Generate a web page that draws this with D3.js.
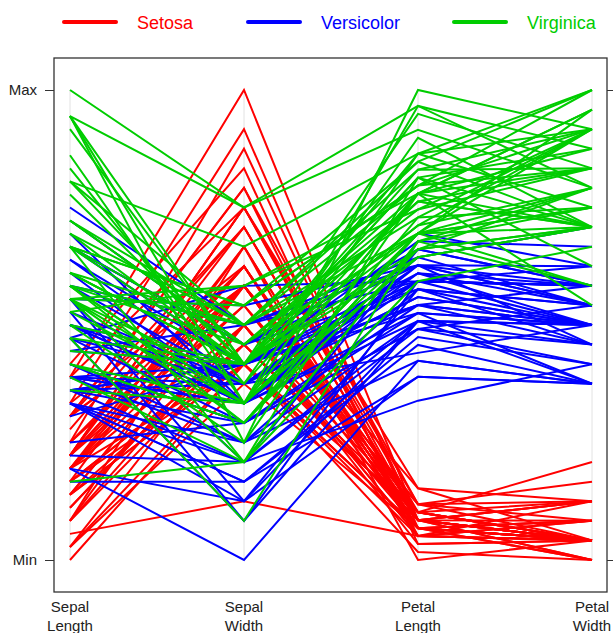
<!DOCTYPE html>
<html>
<head>
<meta charset="utf-8">
<script src="https://cdn.jsdelivr.net/npm/d3@7"></script>
<style>
  body { margin: 0; background: #fff; }
  text { font-family: "Liberation Sans", Arial, sans-serif; }
</style>
</head>
<body>
<svg id="chart" width="613" height="633"></svg>
<script>
// iris measurements, rows 1-50 setosa, 51-100 versicolor, 101-150 virginica
const sepalLength = [
  5.1,4.9,4.7,4.6,5.0,5.4,4.6,5.0,4.4,4.9,5.4,4.8,4.8,4.3,5.8,5.7,5.4,5.1,5.7,5.1,5.4,5.1,4.6,5.1,4.8,
  5.0,5.0,5.2,5.2,4.7,4.8,5.4,5.2,5.5,4.9,5.0,5.5,4.9,4.4,5.1,5.0,4.5,4.4,5.0,5.1,4.8,5.1,4.6,5.3,5.0,
  7.0,6.4,6.9,5.5,6.5,5.7,6.3,4.9,6.6,5.2,5.0,5.9,6.0,6.1,5.6,6.7,5.6,5.8,6.2,5.6,5.9,6.1,6.3,6.1,6.4,
  6.6,6.8,6.7,6.0,5.7,5.5,5.5,5.8,6.0,5.4,6.0,6.7,6.3,5.6,5.5,5.5,6.1,5.8,5.0,5.6,5.7,5.7,6.2,5.1,5.7,
  6.3,5.8,7.1,6.3,6.5,7.6,4.9,7.3,6.7,7.2,6.5,6.4,6.8,5.7,5.8,6.4,6.5,7.7,7.7,6.0,6.9,5.6,7.7,6.3,6.7,
  7.2,6.2,6.1,6.4,7.2,7.4,7.9,6.4,6.3,6.1,7.7,6.3,6.4,6.0,6.9,6.7,6.9,5.8,6.8,6.7,6.7,6.3,6.5,6.2,5.9
];
const sepalWidth = [
  3.5,3.0,3.2,3.1,3.6,3.9,3.4,3.4,2.9,3.1,3.7,3.4,3.0,3.0,4.0,4.4,3.9,3.5,3.8,3.8,3.4,3.7,3.6,3.3,3.4,
  3.0,3.4,3.5,3.4,3.2,3.1,3.4,4.1,4.2,3.1,3.2,3.5,3.6,3.0,3.4,3.5,2.3,3.2,3.5,3.8,3.0,3.8,3.2,3.7,3.3,
  3.2,3.2,3.1,2.3,2.8,2.8,3.3,2.4,2.9,2.7,2.0,3.0,2.2,2.9,2.9,3.1,3.0,2.7,2.2,2.5,3.2,2.8,2.5,2.8,2.9,
  3.0,2.8,3.0,2.9,2.6,2.4,2.4,2.7,2.7,3.0,3.4,3.1,2.3,3.0,2.5,2.6,3.0,2.6,2.3,2.7,3.0,2.9,2.9,2.5,2.8,
  3.3,2.7,3.0,2.9,3.0,3.0,2.5,2.9,2.5,3.6,3.2,2.7,3.0,2.5,2.8,3.2,3.0,3.8,2.6,2.2,3.2,2.8,2.8,2.7,3.3,
  3.2,2.8,3.0,2.8,3.0,2.8,3.8,2.8,2.8,2.6,3.0,3.4,3.1,3.0,3.1,3.1,3.1,2.7,3.2,3.3,3.0,2.5,3.0,3.4,3.0
];
const petalLength = [
  1.4,1.4,1.3,1.5,1.4,1.7,1.4,1.5,1.4,1.5,1.5,1.6,1.4,1.1,1.2,1.5,1.3,1.4,1.7,1.5,1.7,1.5,1.0,1.7,1.9,
  1.6,1.6,1.5,1.4,1.6,1.6,1.5,1.5,1.4,1.5,1.2,1.3,1.4,1.3,1.5,1.3,1.3,1.3,1.6,1.9,1.4,1.6,1.4,1.5,1.4,
  4.7,4.5,4.9,4.0,4.6,4.5,4.7,3.3,4.6,3.9,3.5,4.2,4.0,4.7,3.6,4.4,4.5,4.1,4.5,3.9,4.8,4.0,4.9,4.7,4.3,
  4.4,4.8,5.0,4.5,3.5,3.8,3.7,3.9,5.1,4.5,4.5,4.7,4.4,4.1,4.0,4.4,4.6,4.0,3.3,4.2,4.2,4.2,4.3,3.0,4.1,
  6.0,5.1,5.9,5.6,5.8,6.6,4.5,6.3,5.8,6.1,5.1,5.3,5.5,5.0,5.1,5.3,5.5,6.7,6.9,5.0,5.7,4.9,6.7,4.9,5.7,
  6.0,4.8,4.9,5.6,5.8,6.1,6.4,5.6,5.1,5.6,6.1,5.6,5.5,4.8,5.4,5.6,5.1,5.1,5.9,5.7,5.2,5.0,5.2,5.4,5.1
];
const petalWidth = [
  0.2,0.2,0.2,0.2,0.2,0.4,0.3,0.2,0.2,0.1,0.2,0.2,0.1,0.1,0.2,0.4,0.4,0.3,0.3,0.3,0.2,0.4,0.2,0.5,0.2,
  0.2,0.4,0.2,0.2,0.2,0.2,0.4,0.1,0.2,0.2,0.2,0.2,0.1,0.2,0.2,0.3,0.3,0.2,0.6,0.4,0.3,0.2,0.2,0.2,0.2,
  1.4,1.5,1.5,1.3,1.5,1.3,1.6,1.0,1.3,1.4,1.0,1.5,1.0,1.4,1.3,1.4,1.5,1.0,1.5,1.1,1.8,1.3,1.5,1.2,1.3,
  1.4,1.4,1.7,1.5,1.0,1.1,1.0,1.2,1.6,1.5,1.6,1.5,1.3,1.3,1.3,1.2,1.4,1.2,1.0,1.3,1.2,1.3,1.3,1.1,1.3,
  2.5,1.9,2.1,1.8,2.2,2.1,1.7,1.8,1.8,2.5,2.0,1.9,2.1,2.0,2.4,2.3,1.8,2.2,2.3,1.5,2.3,2.0,2.0,1.8,2.1,
  1.8,1.8,1.8,2.1,1.6,1.9,2.0,2.2,1.5,1.4,2.3,2.4,1.8,1.8,2.1,2.4,2.3,1.9,2.3,2.5,2.3,1.9,2.0,2.3,1.8
];
const speciesNames = ["Setosa", "Versicolor", "Virginica"];
const speciesColors = ["#ff0000", "#0000ff", "#00cd00"];
const dimensionLabels = [["Sepal", "Length"], ["Sepal", "Width"], ["Petal", "Length"], ["Petal", "Width"]];
const tickLabels = ["Min", "Max"];

const columns = [sepalLength, sepalWidth, petalLength, petalWidth];
const svg = d3.select("#chart");

// plot frame
const box = { left: 54, right: 607, top: 58, bottom: 592 };

const x = d3.scalePoint()
    .domain(d3.range(columns.length))
    .range([70, 592]);

// one linear scale per variable, min -> Min, max -> Max
const yScales = columns.map(col => d3.scaleLinear()
    .domain(d3.extent(col))
    .range([560, 90]));
const yTick = d3.scaleLinear().domain([0, 1]).range([560, 90]);

// light grey vertical axes
svg.selectAll(".vaxis")
    .data(columns)
    .enter()
    .append("line")
    .attr("class", "vaxis")
    .attr("x1", (d, i) => x(i))
    .attr("x2", (d, i) => x(i))
    .attr("y1", yTick(0))
    .attr("y2", yTick(1))
    .attr("stroke", "#e2e2e2")
    .attr("stroke-width", 1);

// polylines, drawn in row order
const rows = d3.range(sepalLength.length).map(r => ({
    species: Math.floor(r / 50),
    values: columns.map(col => col[r])
}));

const line = d3.line()
    .x((v, i) => x(i))
    .y((v, i) => yScales[i](v));

svg.append("g")
    .selectAll("path")
    .data(rows)
    .enter()
    .append("path")
    .attr("d", d => line(d.values))
    .attr("fill", "none")
    .attr("stroke", d => speciesColors[d.species])
    .attr("stroke-width", 2)
    .attr("stroke-linejoin", "miter");

// frame
svg.append("rect")
    .attr("x", box.left)
    .attr("y", box.top)
    .attr("width", box.right - box.left)
    .attr("height", box.bottom - box.top)
    .attr("fill", "none")
    .attr("stroke", "#333")
    .attr("stroke-width", 1.3);

// left axis
const leftAxis = d3.axisLeft(yTick)
    .tickValues([0, 1])
    .tickFormat(d => tickLabels[d])
    .tickSize(9)
    .tickPadding(8);
const gl = svg.append("g")
    .attr("transform", `translate(${box.left},0)`)
    .call(leftAxis);
gl.select(".domain").remove();
gl.selectAll("text").attr("font-size", 15).attr("fill", "#222")
    .style("font-family", "'Liberation Sans', Arial, sans-serif");
gl.selectAll("line").attr("stroke", "#333");

// right axis ticks, no labels
const rightAxis = d3.axisRight(yTick)
    .tickValues([0, 1])
    .tickFormat("")
    .tickSize(9);
const gr = svg.append("g")
    .attr("transform", `translate(${box.right},0)`)
    .call(rightAxis);
gr.select(".domain").remove();
gr.selectAll("line").attr("stroke", "#333");

// bottom labels
const labels = svg.selectAll(".dimlabel")
    .data(dimensionLabels)
    .enter()
    .append("text")
    .attr("class", "dimlabel")
    .attr("text-anchor", "middle")
    .attr("font-size", 15)
    .attr("fill", "#222");
labels.append("tspan")
    .attr("x", (d, i) => x(i))
    .attr("y", 612)
    .text(d => d[0]);
labels.append("tspan")
    .attr("x", (d, i) => x(i))
    .attr("y", 631)
    .text(d => d[1]);

// legend
const legendX = [64, 248, 454];
const legend = svg.selectAll(".legend")
    .data(speciesNames)
    .enter()
    .append("g")
    .attr("class", "legend")
    .attr("transform", (d, i) => `translate(${legendX[i]},22)`);
legend.append("line")
    .attr("x1", 0)
    .attr("x2", 52)
    .attr("stroke", (d, i) => speciesColors[i])
    .attr("stroke-width", 4)
    .attr("stroke-linecap", "round");
legend.append("text")
    .attr("x", 73)
    .attr("y", 7)
    .attr("font-size", 18)
    .attr("fill", (d, i) => speciesColors[i])
    .text(d => d);
</script>
</body>
</html>
